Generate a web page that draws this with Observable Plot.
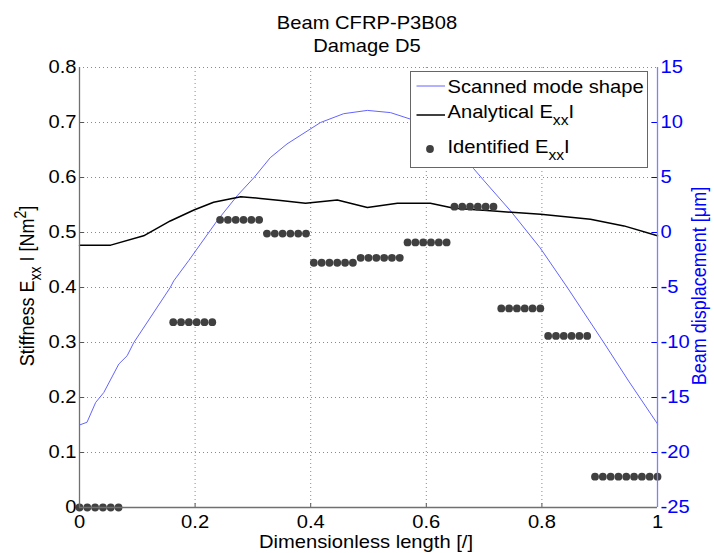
<!DOCTYPE html>
<html>
<head>
<meta charset="utf-8">
<script src="https://cdn.jsdelivr.net/npm/d3@7"></script>
<script src="https://cdn.jsdelivr.net/npm/@observablehq/plot@0.6"></script>
<style>
  html, body { margin: 0; padding: 0; background: #fff; }
  #chart { width: 714px; height: 553px; }
</style>
</head>
<body>
<div id="chart"></div>
<script>
// ---------- data ----------
const titleLines = ["Beam CFRP-P3B08", "Damage D5"];
const xTicks = [0, 0.2, 0.4, 0.6, 0.8, 1];
const xTickLabels = ["0", "0.2", "0.4", "0.6", "0.8", "1"];
const eiTicks = [0, 0.1, 0.2, 0.3, 0.4, 0.5, 0.6, 0.7, 0.8];
const eiTickLabels = ["0", "0.1", "0.2", "0.3", "0.4", "0.5", "0.6", "0.7", "0.8"];
const dispTickLabels = ["-25", "-20", "-15", "-10", "-5", "0", "5", "10", "15"];
const eiDomain = [0, 0.8];
const dispDomain = [-25, 15];

// Scanned mode shape (beam displacement, µm)
const modeX =    [0, 0.013, 0.028, 0.042, 0.068, 0.0825, 0.094, 0.157, 0.163, 0.189, 0.238, 0.273, 0.302, 0.330, 0.359, 0.417, 0.457, 0.498, 0.538, 0.573, 0.62, 0.65, 0.682, 0.70, 0.746, 0.797, 0.844, 0.907, 0.950, 1.0];
const modeDisp = [-17.5, -17.25, -15.45, -14.55, -11.96, -11.2, -10.0, -5.0, -4.4, -2.55, 1.06, 3.35, 5.0, 6.8, 8.05, 10.0, 10.8, 11.1, 10.9, 10.3, 8.8, 7.6, 5.8, 4.7, 1.95, -1.4, -5.0, -10.0, -13.5, -17.4];

// Analytical ExxI (Nm^2)
const analyticX =  [0, 0.054, 0.111, 0.157, 0.198, 0.232, 0.279, 0.313, 0.348, 0.391, 0.446, 0.498, 0.550, 0.607, 0.648, 0.717, 0.798, 0.884, 0.942, 1.0];
const analyticEI = [0.477, 0.477, 0.494, 0.521, 0.541, 0.555, 0.565, 0.562, 0.558, 0.553, 0.559, 0.5455, 0.553, 0.553, 0.544, 0.539, 0.533, 0.524, 0.512, 0.494];

// Identified ExxI: one value per beam element, evaluated on 75 equally spaced points
const identifiedEI = [0, null, 0.337, 0.523, 0.498, 0.445, 0.454, 0.482, 0.547, 0.362, 0.312, 0.056];
const identifiedCount = [6, 6, 6, 6, 6, 6, 6, 6, 6, 6, 6, 9];

const legendLabels = ["Scanned mode shape", "Analytical E", "Identified E"];

// ---------- build tables ----------
const toEI = v => eiDomain[0] + (v - dispDomain[0]) / (dispDomain[1] - dispDomain[0]) * (eiDomain[1] - eiDomain[0]);
const mode = modeX.map((x, i) => ({x, y: toEI(modeDisp[i])}));
const analytic = analyticX.map((x, i) => ({x, y: analyticEI[i]}));
const nPts = identifiedCount.reduce((a, b) => a + b, 0);
const identified = [];
let k = 0;
identifiedEI.forEach((v, g) => {
  for (let j = 0; j < identifiedCount[g]; j++, k++) {
    if (v !== null) identified.push({x: k / (nPts - 1), y: v});
  }
});

// ---------- style ----------
const W = 714, H = 553, ML = 79, MR = 57, MT = 67, MB = 46;
const FONT = "'Liberation Sans', Arial, Helvetica, sans-serif";
const FS = 18, SX = 1.12;
const BLUE = "#0000ff", CURVE = "#6464ff", DOT = "#404040";
const grid = {stroke: "#8a8a8a", strokeOpacity: 1, strokeDasharray: "1,3", strokeWidth: 1};

const chart = Plot.plot({
  width: W, height: H,
  marginLeft: ML, marginRight: MR, marginTop: MT, marginBottom: MB,
  style: {fontFamily: FONT, fontSize: FS + "px", background: "#fff", color: "#000", overflow: "visible"},
  x: {domain: [0, 1]},
  y: {domain: eiDomain},
  marks: [
    Plot.gridX(xTicks.slice(1, -1), grid),
    Plot.gridY(eiTicks.slice(1), grid),
    Plot.ruleY(eiTicks.slice(1, -1), {x1: 0, x2: 0.009, stroke: "#555"}),
    Plot.ruleX(xTicks.slice(1, -1), {y1: 0, y2: 0.007, stroke: "#555"}),
    Plot.ruleY(eiTicks.slice(1, -1), {x1: 0.991, x2: 1, stroke: BLUE}),
    Plot.line(mode, {x: "x", y: "y", stroke: CURVE, strokeWidth: 1}),
    Plot.line(analytic, {x: "x", y: "y", stroke: "#000", strokeWidth: 1.5}),
    Plot.dot(identified, {x: "x", y: "y", r: 3.9, fill: DOT, stroke: null}),
    Plot.ruleX([0], {stroke: "#707070", strokeWidth: 1.3}),
    Plot.ruleY([0], {stroke: "#707070", strokeWidth: 1.3}),
    Plot.ruleX([1], {stroke: "#8080ff", strokeWidth: 1.3}),
    Plot.axisY(eiTicks, {anchor: "left", tickSize: 0, tickPadding: 3, label: null,
      tickFormat: d => eiTickLabels[eiTicks.indexOf(d)]}),
    Plot.axisY(eiTicks, {anchor: "right", tickSize: 0, tickPadding: 3, label: null, fill: BLUE,
      tickFormat: d => dispTickLabels[eiTicks.indexOf(d)]}),
    Plot.axisX(xTicks, {anchor: "bottom", tickSize: 0, tickPadding: 8, label: null,
      tickFormat: d => xTickLabels[xTicks.indexOf(d)]})
  ]
});
document.getElementById("chart").appendChild(chart);

const svg = d3.select(chart.tagName.toLowerCase() === "svg" ? chart : chart.querySelector("svg"));

// horizontal stretch of the reference's lettering
svg.selectAll("text").each(function () {
  const t = d3.select(this);
  const x = parseFloat(t.attr("x")) || 0;
  const tr = t.attr("transform") || "";
  t.attr("transform", `${tr} translate(${x},0) scale(${SX},1) translate(${-x},0)`);
});
svg.selectAll("text").filter(function () { return d3.select(this).attr("text-anchor") === "start" || (this.parentNode && d3.select(this.parentNode).attr("text-anchor") === "start"); }).attr("fill", BLUE);

function txt(parent, x, y, anchor, fill) {
  return parent.append("text")
    .attr("transform", `translate(${x},${y}) scale(${SX},1)`)
    .attr("text-anchor", anchor)
    .attr("font-family", FONT).attr("font-size", FS)
    .attr("fill", fill || "#000");
}

// title
txt(svg, 367, 28.5, "middle").text(titleLines[0]);
txt(svg, 367, 51.5, "middle").text(titleLines[1]);

// x label
txt(svg, 366, 548, "middle").text("Dimensionless length [/]");

// left y label (rotated)
const yl = svg.append("text")
  .attr("transform", `translate(34,286) rotate(-90) scale(1,${SX})`)
  .attr("text-anchor", "middle").attr("font-family", FONT).attr("font-size", FS).attr("fill", "#000");
yl.append("tspan").text("Stiffness E");
yl.append("tspan").attr("dy", 6).attr("font-size", 14).text("xx");
yl.append("tspan").attr("dy", -6).text(" I [Nm");
yl.append("tspan").attr("dy", -7).attr("font-size", 14).text("2");
yl.append("tspan").attr("dy", 7).text("]");

// right y label (rotated)
svg.append("text")
  .attr("transform", `translate(706,286) rotate(-90) scale(1,${SX})`)
  .attr("text-anchor", "middle").attr("font-family", FONT).attr("font-size", FS).attr("fill", BLUE)
  .text("Beam displacement [μm]");

// legend
const lg = svg.append("g");
lg.append("rect").attr("x", 410.5).attr("y", 71.5).attr("width", 237).attr("height", 96)
  .attr("fill", "#fff").attr("stroke", "#666").attr("stroke-width", 1);
lg.append("line").attr("x1", 416.5).attr("x2", 445).attr("y1", 86).attr("y2", 86).attr("stroke", CURVE).attr("stroke-width", 1);
lg.append("line").attr("x1", 416.5).attr("x2", 445).attr("y1", 115).attr("y2", 115).attr("stroke", "#000").attr("stroke-width", 1.5);
lg.append("circle").attr("cx", 430).attr("cy", 149).attr("r", 3.9).attr("fill", DOT);
txt(lg, 447.5, 93.3, "start").text(legendLabels[0]);
const l2 = txt(lg, 447.5, 118.3, "start");
l2.append("tspan").text(legendLabels[1]);
l2.append("tspan").attr("dy", 7).attr("font-size", 14).text("xx");
l2.append("tspan").attr("dy", -7).text("I");
const l3 = txt(lg, 447.5, 152.7, "start");
l3.append("tspan").text(legendLabels[2]);
l3.append("tspan").attr("dy", 7).attr("font-size", 14).text("xx");
l3.append("tspan").attr("dy", -7).text("I");
</script>
</body>
</html>
